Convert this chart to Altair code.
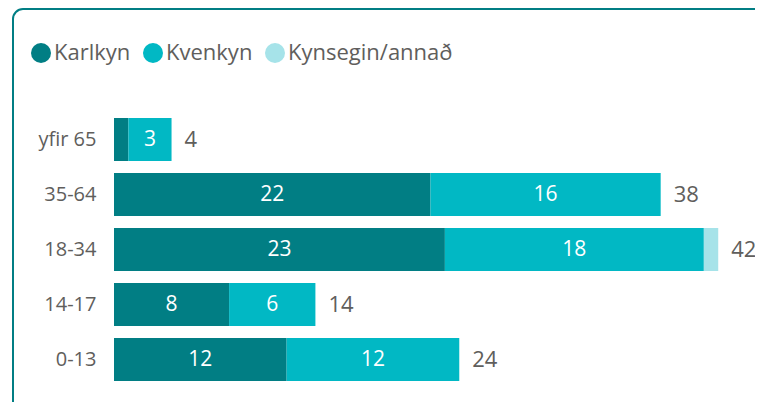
import altair as alt
import pandas as pd

categories = ["yfir 65", "35-64", "18-34", "14-17", "0-13"]
series = ["Karlkyn", "Kvenkyn", "Kynsegin/annað"]
karlkyn = [1, 22, 23, 8, 12]
kvenkyn = [3, 16, 18, 6, 12]
kynsegin = [0, 0, 1, 0, 0]
colors = ["#017E84", "#01B8C4", "#A6E3E9"]

rows = []
for i, c in enumerate(categories):
    for j, (s, vals) in enumerate(zip(series, [karlkyn, kvenkyn, kynsegin])):
        rows.append({"cat": c, "series": s, "order": j, "value": vals[i]})
df = pd.DataFrame(rows)
totals = pd.DataFrame({"cat": categories,
                       "total": [a + b + c for a, b, c in zip(karlkyn, kvenkyn, kynsegin)]})

FONT = "Open Sans"
GREY = "#605E5C"

xscale = alt.Scale(domain=[0, 44], nice=False, zero=True)
yenc = alt.Y("cat:N", sort=categories, title=None,
             scale=alt.Scale(paddingInner=0.218, paddingOuter=0.109),
             axis=alt.Axis(domain=False, ticks=False, labelFontSize=20, labelColor=GREY,
                           labelFont=FONT, labelPadding=18))

base = alt.Chart(df)

bars = base.mark_bar().encode(
    x=alt.X("value:Q", stack="zero", scale=xscale, axis=None),
    y=yenc,
    color=alt.Color("series:N", scale=alt.Scale(domain=series, range=colors),
                    legend=alt.Legend(title=None, orient="none", direction="horizontal",
                                      legendX=-84, legendY=-70, symbolType="circle",
                                      symbolSize=400, symbolStrokeWidth=0,
                                      labelFontSize=22, labelFont=FONT, labelColor=GREY,
                                      columnPadding=11, labelOffset=2, labelLimit=0)),
    order=alt.Order("order:Q"),
)

inner = base.transform_stack(
    stack="value", groupby=["cat"], as_=["v0", "v1"],
    sort=[alt.SortField("order", order="ascending")]
).transform_calculate(
    mid="(datum.v0 + datum.v1) / 2"
).transform_filter("datum.value >= 2").mark_text(
    color="white", fontSize=21, font=FONT, baseline="middle", align="center"
).encode(
    x=alt.X("mid:Q", scale=xscale),
    y=alt.Y("cat:N", sort=categories),
    text=alt.Text("value:Q"),
)

tot = alt.Chart(totals).mark_text(
    color=GREY, fontSize=22, font=FONT, baseline="middle", align="left", dx=13
).encode(
    x=alt.X("total:Q", scale=xscale),
    y=alt.Y("cat:N", sort=categories),
    text=alt.Text("total:Q"),
)

border = alt.Chart(alt.Data(values=[{"a": 1}])).mark_rect(
    fillOpacity=0, stroke="#017E84", strokeWidth=2, cornerRadius=10
).encode(
    x=alt.value(-101), x2=alt.value(700), y=alt.value(-103), y2=alt.value(300)
)

chart = alt.layer(border, bars, inner, tot).properties(
    width=633, height=275,
    autosize=alt.AutoSizeParams(type="none"),
    padding={"left": 106, "top": 104, "right": 8, "bottom": 15},
).configure_view(stroke=None)

chart.save("out.html", embed_options={"renderer": "svg", "actions": False})
